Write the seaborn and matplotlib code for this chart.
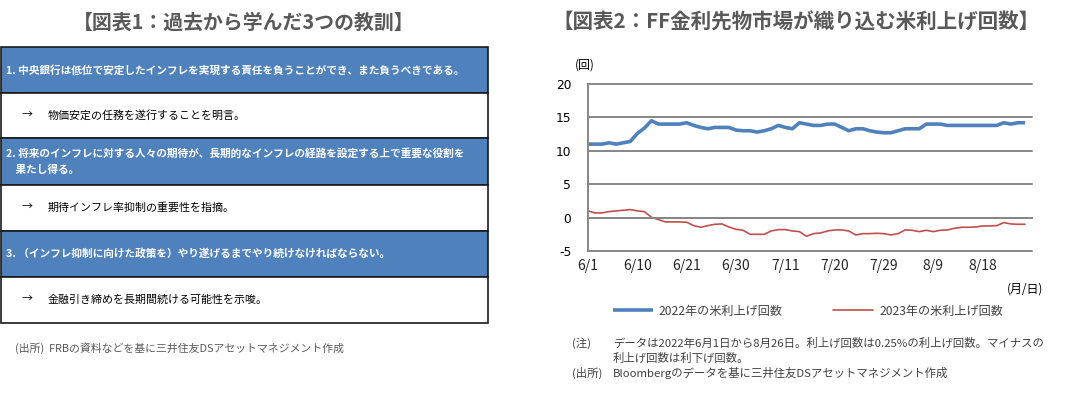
import numpy as np
import pandas as pd
import matplotlib
matplotlib.use("Agg")
import matplotlib.pyplot as plt
from matplotlib.patches import Rectangle
import seaborn as sns

# ---------------------------------------------------------------
# データ
# ---------------------------------------------------------------
fechas = pd.bdate_range("2022-06-01", "2022-08-26")
etiquetas = [f"{d.month}/{d.day}" for d in fechas]

hikes_2022 = [11.0, 11.0, 11.0, 11.2, 11.0, 11.2, 11.4, 12.6, 13.4, 14.5,
              14.0, 14.0, 14.0, 14.0, 14.2, 13.8, 13.5, 13.3, 13.5, 13.5,
              13.5, 13.1, 13.0, 13.0, 12.8, 13.0, 13.3, 13.8, 13.5, 13.3,
              14.2, 14.0, 13.8, 13.8, 14.0, 14.0, 13.5, 13.0, 13.3, 13.3,
              13.0, 12.8, 12.7, 12.7, 13.0, 13.3, 13.3, 13.3, 14.0, 14.0,
              14.0, 13.8, 13.8, 13.8, 13.8, 13.8, 13.8, 13.8, 13.8, 14.2,
              14.0, 14.2, 14.2]
hikes_2023 = [1.0, 0.7, 0.7, 0.9, 1.0, 1.1, 1.2, 1.0, 0.9, 0.05,
              -0.3, -0.65, -0.65, -0.65, -0.7, -1.2, -1.45, -1.2, -1.0, -0.95,
              -1.4, -1.75, -1.9, -2.5, -2.5, -2.5, -2.0, -1.8, -1.8, -2.0,
              -2.1, -2.8, -2.4, -2.3, -2.0, -1.85, -1.85, -2.0, -2.6, -2.4,
              -2.4, -2.35, -2.4, -2.6, -2.4, -1.85, -1.9, -2.1, -1.9, -2.1,
              -1.9, -1.85, -1.6, -1.45, -1.45, -1.4, -1.25, -1.25, -1.2, -0.75,
              -0.95, -1.0, -1.0]
serie_nombres = ["2022年の米利上げ回数", "2023年の米利上げ回数"]
y_ticks = [-5, 0, 5, 10, 15, 20]

titulo_1 = "【図表1：過去から学んだ3つの教訓】"
titulo_2 = "【図表2：FF金利先物市場が織り込む米利上げ回数】"
lecciones = [
    ["1. 中央銀行は低位で安定したインフレを実現する責任を負うことができ、また負うべきである。"],
    ["2. 将来のインフレに対する人々の期待が、長期的なインフレの経路を設定する上で重要な役割を",
     "    果たし得る。"],
    ["3. （インフレ抑制に向けた政策を）やり遂げるまでやり続けなければならない。"],
]
implicaciones = ["物価安定の任務を遂行することを明言。",
                 "期待インフレ率抑制の重要性を指摘。",
                 "金融引き締めを長期間続ける可能性を示唆。"]
fuente_1 = "(出所)  FRBの資料などを基に三井住友DSアセットマネジメント作成"
nota_lineas = ["データは2022年6月1日から8月26日。利上げ回数は0.25%の利上げ回数。マイナスの",
               "利上げ回数は利下げ回数。"]
fuente_2 = "Bloombergのデータを基に三井住友DSアセットマネジメント作成"

# ---------------------------------------------------------------
W, H = 1076, 397
JP = ["Noto Sans CJK JP", "DejaVu Sans"]
AZUL = "#4F81BD"
ROJO = "#C0504D"
GRIS = "#595959"

sns.set_style("white")
plt.rcParams["font.family"] = JP

fig = plt.figure(figsize=(W / 100, H / 100), dpi=100)
bg = fig.add_axes([0, 0, 1, 1])
bg.set_xlim(0, W)
bg.set_ylim(H, 0)
bg.axis("off")

# ---- 図表1: テーブル ----
bg.text(244, 22, titulo_1, ha="center", va="center", fontsize=14.3,
        fontweight="bold", color=GRIS, family=JP)

filas = [(47, 93), (93, 138), (138, 185), (185, 231), (231, 277), (277, 323)]
for k, (y0, y1) in enumerate(filas):
    azul = k % 2 == 0
    bg.add_patch(Rectangle((1, y0), 487, y1 - y0, facecolor=AZUL if azul else "white",
                           edgecolor="#1a1a1a", lw=1.2))
    yc = (y0 + y1) / 2
    if azul:
        lineas = lecciones[k // 2]
        if len(lineas) == 1:
            bg.text(6, yc, lineas[0], ha="left", va="center", fontsize=7.7,
                    fontweight="bold", color="white", family=JP)
        else:
            bg.text(6, yc - 8, lineas[0], ha="left", va="center", fontsize=7.7,
                    fontweight="bold", color="white", family=JP)
            bg.text(6, yc + 8, lineas[1], ha="left", va="center", fontsize=7.7,
                    fontweight="bold", color="white", family=JP)
    else:
        bg.text(22, yc, "→", ha="left", va="center", fontsize=7.9,
                color="black", family=JP)
        bg.text(48, yc, implicaciones[k // 2], ha="left", va="center",
                fontsize=7.9, color="black", family=JP)

bg.text(15, 348, fuente_1, ha="left", va="center", fontsize=7.8,
        color=GRIS, family=JP)

# ---- 図表2: 折れ線 ----
bg.text(796, 22, titulo_2, ha="center", va="center", fontsize=14.8,
        fontweight="bold", color=GRIS, family=JP)

x0, x1, ytop, ybot = 588, 1032, 84, 251
ax = fig.add_axes([x0 / W, 1 - ybot / H, (x1 - x0) / W, (ybot - ytop) / H])
idx = np.arange(len(etiquetas))
sns.lineplot(x=idx, y=hikes_2022, ax=ax, color=AZUL, lw=2.6,
             label=serie_nombres[0], solid_capstyle="butt")
sns.lineplot(x=idx, y=hikes_2023, ax=ax, color=ROJO, lw=1.2,
             label=serie_nombres[1])

ax.set_xlim(0, 63)
ax.set_ylim(-5, 20)
ax.set_yticks(y_ticks)
ax.set_yticklabels([str(v) for v in y_ticks], family="DejaVu Sans",
                   fontsize=8.8, color="black")
pos = list(range(0, 64, 7))
ax.set_xticks(pos)
ax.set_xticklabels([etiquetas[p] if p < len(etiquetas) else "" for p in pos],
                   family="DejaVu Sans", fontsize=8.8, color="black")
ax.tick_params(axis="y", length=0, pad=12)
ax.tick_params(axis="x", direction="in", length=3, width=1, color="#868686", pad=30)

ax.grid(False)
ax.yaxis.grid(True, color="#868686", lw=1.4)
for gl in ax.get_ygridlines():
    gl.set_clip_on(False)
for s in ["top", "right"]:
    ax.spines[s].set_visible(False)
ax.spines["left"].set_color("#868686")
ax.spines["left"].set_linewidth(1.4)
ax.spines["bottom"].set_position(("data", 0))
ax.spines["bottom"].set_color("#868686")
ax.spines["bottom"].set_linewidth(1.4)
ax.set_xlabel("")
ax.set_ylabel("")

ax.legend(loc="center", bbox_to_anchor=(808 / W, 1 - 311 / H),
          bbox_transform=fig.transFigure, ncol=2, frameon=False,
          prop=dict(family=JP, size=8.7), handlelength=3.3,
          handletextpad=0.5, columnspacing=4.2, labelcolor="#404040")

bg.text(585, 65, "(回)", ha="center", va="center", fontsize=8.6,
        color="black", family=JP)
bg.text(1025, 289, "(月/日)", ha="center", va="center", fontsize=8.6,
        color="black", family=JP)

bg.text(572, 343, "(注)", ha="left", va="center", fontsize=8.2, color="#404040", family=JP)
bg.text(613, 343, nota_lineas[0], ha="left", va="center", fontsize=8.2, color="#404040", family=JP)
bg.text(613, 358, nota_lineas[1], ha="left", va="center", fontsize=8.2, color="#404040", family=JP)
bg.text(572, 373, "(出所)", ha="left", va="center", fontsize=8.2, color="#404040", family=JP)
bg.text(613, 373, fuente_2, ha="left", va="center", fontsize=8.2, color="#404040", family=JP)

fig.savefig("out.png", dpi=100)
